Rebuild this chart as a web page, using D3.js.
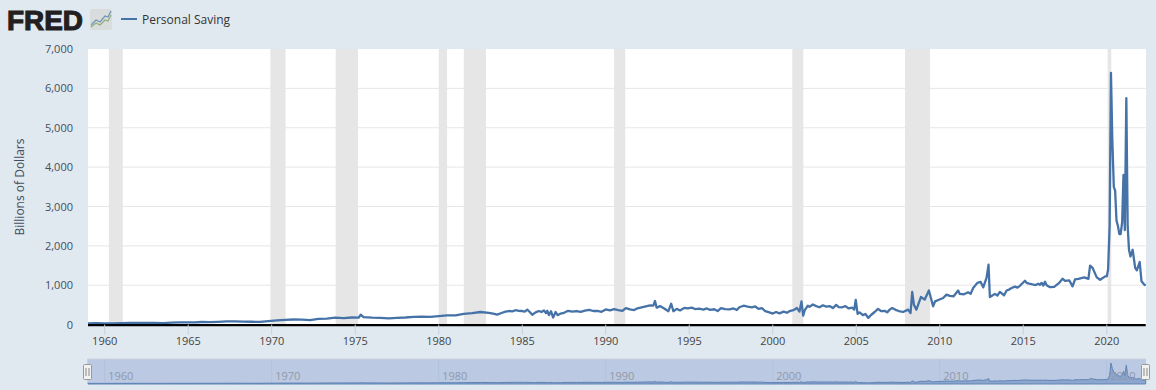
<!DOCTYPE html>
<html>
<head>
<meta charset="utf-8">
<script src="https://cdn.jsdelivr.net/npm/d3@7"></script>
<style>
  html, body { margin: 0; padding: 0; background: #e1e9f0; }
  text { font-family: "Open Sans", sans-serif; }
</style>
</head>
<body>
<div id="chart"></div>
<script>
const seriesName = 'Personal Saving';
const yAxisTitle = 'Billions of Dollars';
const yTicks = [0, 1000, 2000, 3000, 4000, 5000, 6000, 7000];
const xTicks = [1960, 1965, 1970, 1975, 1980, 1985, 1990, 1995, 2000, 2005, 2010, 2015, 2020];
const navTicks = [1960, 1970, 1980, 1990, 2000, 2010, 2020];

// recession start / end, decimal years
const recessionStart = [1960.25, 1969.92, 1973.83, 1980.0, 1981.5, 1990.5, 2001.17, 2007.92, 2020.05];
const recessionEnd = [1961.08, 1970.83, 1975.17, 1980.5, 1982.83, 1991.17, 2001.83, 2009.42, 2020.27];

// decimal years and billions of dollars
const dates = [
  1959.0, 1959.5, 1960.0, 1960.5, 1961.0, 1961.5, 1962.0, 1962.5, 1963.0, 1963.5,
  1964.0, 1964.5, 1965.0, 1965.4, 1965.8, 1966.3, 1966.8, 1967.3, 1967.8, 1968.3,
  1968.8, 1969.3, 1969.8, 1970.3, 1970.8, 1971.3, 1971.8, 1972.3, 1972.8, 1973.3,
  1973.8, 1974.3, 1974.8, 1975.2, 1975.33, 1975.5, 1976.0, 1976.5, 1977.0, 1977.5,
  1978.0, 1978.5, 1979.0, 1979.5, 1980.0, 1980.5, 1981.0, 1981.5, 1982.0, 1982.5,
  1983.0, 1983.25, 1983.5, 1983.8, 1984.0, 1984.2, 1984.4, 1984.6, 1984.8, 1985.0,
  1985.15, 1985.3, 1985.45, 1985.6, 1985.8, 1986.0, 1986.15, 1986.3, 1986.42, 1986.5,
  1986.6, 1986.72, 1986.85, 1987.0, 1987.12, 1987.3, 1987.5, 1987.75, 1988.0, 1988.25,
  1988.5, 1988.75, 1989.0, 1989.25, 1989.5, 1989.75, 1990.0, 1990.25, 1990.5, 1990.75,
  1991.0, 1991.2, 1991.45, 1991.7, 1991.9, 1992.15, 1992.4, 1992.65, 1992.85, 1992.95,
  1993.05, 1993.25, 1993.5, 1993.75, 1993.92, 1994.05, 1994.25, 1994.45, 1994.7, 1994.9,
  1995.15, 1995.35, 1995.6, 1995.85, 1996.05, 1996.25, 1996.5, 1996.7, 1996.9, 1997.15,
  1997.4, 1997.65, 1997.85, 1998.0, 1998.25, 1998.5, 1998.75, 1998.95, 1999.15, 1999.35,
  1999.55, 1999.8, 2000.0, 2000.2, 2000.4, 2000.65, 2000.85, 2001.05, 2001.25, 2001.45,
  2001.6, 2001.72, 2001.82, 2001.92, 2002.1, 2002.2, 2002.4, 2002.6, 2002.8, 2003.0,
  2003.2, 2003.4, 2003.6, 2003.8, 2003.95, 2004.15, 2004.35, 2004.55, 2004.75, 2004.88,
  2004.97, 2005.08, 2005.2, 2005.4, 2005.55, 2005.72, 2005.9, 2006.1, 2006.3, 2006.5,
  2006.7, 2006.85, 2007.0, 2007.15, 2007.35, 2007.55, 2007.8, 2008.1, 2008.25, 2008.35,
  2008.45, 2008.6, 2008.87, 2009.1, 2009.35, 2009.6, 2009.72, 2009.95, 2010.2, 2010.4,
  2010.6, 2010.83, 2011.1, 2011.2, 2011.45, 2011.7, 2011.85, 2012.0, 2012.25, 2012.45,
  2012.6, 2012.8, 2012.92, 2013.0, 2013.15, 2013.3, 2013.45, 2013.6, 2013.85, 2014.0,
  2014.15, 2014.3, 2014.5, 2014.65, 2014.8, 2015.1, 2015.2, 2015.35, 2015.55, 2015.75,
  2015.9, 2016.0, 2016.1, 2016.2, 2016.3, 2016.4, 2016.6, 2016.85, 2017.0, 2017.15,
  2017.35, 2017.5, 2017.75, 2017.95, 2018.1, 2018.3, 2018.65, 2018.9, 2019.0, 2019.15,
  2019.4, 2019.6, 2019.9, 2020.0, 2020.08, 2020.17, 2020.25, 2020.33, 2020.42, 2020.5,
  2020.58, 2020.67, 2020.75, 2020.83, 2020.92, 2021.0, 2021.08, 2021.17, 2021.25, 2021.33,
  2021.42, 2021.55, 2021.7, 2021.8, 2021.97, 2022.08, 2022.25, 2022.33
];
const saving = [
  32, 36, 30, 33, 40, 44, 42, 46, 42, 40,
  50, 58, 55, 54, 66, 62, 70, 80, 84, 78,
  72, 70, 88, 105, 118, 130, 125, 112, 145, 150,
  175, 165, 180, 175, 250, 190, 175, 170, 160, 170,
  180, 195, 200, 195, 215, 235, 235, 270, 290, 320,
  300, 280, 255, 300, 330, 345, 335, 365, 350, 345,
  330, 380, 320, 250, 310, 345, 320, 360, 290, 350,
  240, 340, 180, 320, 240, 280, 300, 350, 330, 345,
  325, 355, 375, 345, 350, 325, 385, 360, 395, 370,
  350, 420, 385, 370, 415, 440, 465, 490, 480, 600,
  430, 470, 410, 340, 530, 340, 400, 360, 425, 410,
  430, 395, 405, 380, 410, 375, 390, 345, 420, 395,
  385, 410, 370, 440, 480, 455, 440, 460, 400, 420,
  340, 310, 280, 320, 285, 330, 300, 350, 370, 420,
  330, 590, 230, 370, 480, 450, 510, 470, 440, 490,
  455, 470, 420, 500, 445, 440, 470, 410, 430, 380,
  630, 270, 310, 240, 270, 170, 250, 320, 400, 340,
  350, 310, 380, 420, 375, 345, 320, 380, 295, 830,
  505, 380, 700, 635, 865, 465, 590, 630, 675, 760,
  730, 720, 865, 780, 770, 820, 780, 930, 1060, 1085,
  945, 1185, 1520, 700, 740, 780, 740, 830, 745, 865,
  890, 930, 965, 940, 985, 1115, 1060, 1040, 1020, 1005,
  1040, 1010, 1060, 990, 1090, 1000, 950, 960, 1010, 1060,
  1165, 1110, 1125, 970, 1150, 1160, 1200, 1160, 1500, 1440,
  1200, 1140, 1225, 1225, 1400, 2500, 6390, 4700, 3500, 3400,
  2650, 2500, 2300, 2300, 2600, 3800, 2400, 5750, 2500, 1900,
  1730, 1900, 1440, 1380, 1590, 1100, 1015, 990
];

const width = 1156, height = 390;
const points = dates.map((d, i) => ({ date: d, value: saving[i] }));

const svg = d3.select('#chart')
  .append('svg')
  .style('display', 'block')
  .attr('width', width)
  .attr('height', height);

const x = d3.scaleLinear().domain([1959, 2022.33]).range([88, 1145.7]);
const y = d3.scaleLinear().domain([0, 7000]).range([324.6, 49]);

// plot background
svg.append('rect')
  .attr('x', x.range()[0]).attr('y', y(7000))
  .attr('width', x.range()[1] - x.range()[0] + 0.3)
  .attr('height', y(0) - y(7000))
  .attr('fill', '#fff');

// recession bands
svg.append('g').selectAll('rect')
  .data(recessionStart)
  .join('rect')
  .attr('x', d => x(d))
  .attr('y', y(7000))
  .attr('width', (d, i) => x(recessionEnd[i]) - x(d))
  .attr('height', y(0) - y(7000))
  .attr('fill', '#e6e6e6');

// gridlines and y labels
const yAxis = svg.append('g')
  .attr('transform', `translate(${x.range()[0]},0)`)
  .call(d3.axisLeft(y).tickValues(yTicks).tickFormat(d3.format(',')).tickSize(0).tickPadding(15));
yAxis.select('.domain').remove();
yAxis.selectAll('text')
  .attr('font-size', 11)
  .attr('fill', '#444e5e')
  .style('font-family', '"Open Sans", sans-serif');
svg.append('g').selectAll('line')
  .data(yTicks.filter(d => d > 0 && d < 7000))
  .join('line')
  .attr('x1', x.range()[0]).attr('x2', x.range()[1])
  .attr('y1', d => y(d)).attr('y2', d => y(d))
  .attr('stroke', '#e6e6e6');

const lineGen = d3.line().x(d => x(d.date)).y(d => y(d.value));
svg.append('path')
  .datum(points)
  .attr('d', lineGen)
  .attr('fill', 'none')
  .attr('stroke', '#4572a7')
  .attr('stroke-width', 2.3)
  .attr('stroke-linejoin', 'round');

// x axis, heavy black baseline
const xAxis = svg.append('g')
  .attr('transform', `translate(-0.5,${y(0)})`)
  .call(d3.axisBottom(x).tickValues(xTicks).tickFormat(d3.format('d')).tickSize(10).tickPadding(3).tickSizeOuter(0));
xAxis.select('.domain')
  .attr('stroke', '#000')
  .attr('stroke-width', 2.4);
xAxis.selectAll('line').attr('stroke', '#c0d0e0');
xAxis.selectAll('text')
  .attr('font-size', 11)
  .attr('fill', '#444')
  .style('font-family', '"Open Sans", sans-serif');

svg.append('text')
  .attr('transform', `translate(24,187) rotate(-90)`)
  .attr('text-anchor', 'middle')
  .attr('font-size', 12)
  .attr('fill', '#444e5e')
  .text(yAxisTitle);

// navigator
const navY = d3.scaleLinear().domain([0, 7000]).range([383.5, 361]);
const navX0 = 87.3, navX1 = 1146;
svg.append('rect')
  .attr('x', navX0).attr('y', 359)
  .attr('width', navX1 - navX0).attr('height', 25)
  .attr('fill', '#bbc9e2');
svg.append('g').selectAll('line')
  .data(navTicks)
  .join('line')
  .attr('x1', d => x(d)).attr('x2', d => x(d))
  .attr('y1', 359).attr('y2', 384)
  .attr('stroke', '#b3c2dc');
svg.append('path')
  .datum(points)
  .attr('d', d3.area().x(d => x(d.date)).y0(384).y1(d => navY(d.value)))
  .attr('fill', '#7e9ac6')
  .attr('fill-opacity', 0.75)
  .attr('stroke', '#5f83b6')
  .attr('stroke-width', 1);
svg.append('g').selectAll('text')
  .data(navTicks)
  .join('text')
  .attr('x', d => x(d) + 3.5)
  .attr('y', 379.5)
  .attr('font-size', 11)
  .attr('fill', '#8f99ab')
  .text(d => d);
svg.append('line')
  .attr('x1', navX0).attr('x2', navX1)
  .attr('y1', 359).attr('y2', 359)
  .attr('stroke', '#c8d0dc');

// navigator handles
[87.5, 1145.5].forEach(cx => {
  const h = svg.append('g').attr('transform', `translate(${cx},0)`);
  h.append('rect')
    .attr('x', -4).attr('y', 364.5).attr('width', 8).attr('height', 15).attr('rx', 1)
    .attr('fill', '#f2f2f2').attr('stroke', '#999');
  [-1.5, 1.5].forEach(dx => h.append('line')
    .attr('x1', dx).attr('x2', dx).attr('y1', 368).attr('y2', 376)
    .attr('stroke', '#888'));
});

// header: logo
svg.append('text')
  .attr('x', 7).attr('y', 29.5)
  .attr('textLength', 76).attr('lengthAdjust', 'spacingAndGlyphs')
  .style('font-family', '"Liberation Sans", sans-serif')
  .attr('font-size', 27).attr('font-weight', 700)
  .attr('fill', '#231f20').attr('stroke', '#231f20').attr('stroke-width', 1.1)
  .text('FRED');
svg.append('rect')
  .attr('x', 90).attr('y', 9).attr('width', 22).attr('height', 21).attr('rx', 2)
  .attr('fill', '#d9dcdc');
const iconLine = d3.line();
svg.append('path')
  .attr('d', iconLine([[91, 25], [96, 20], [100, 22], [105, 16], [108, 17], [111, 11]]))
  .attr('fill', 'none').attr('stroke', '#6f93b5').attr('stroke-width', 1.2);
svg.append('path')
  .attr('d', iconLine([[91, 27], [96, 23], [100, 25], [105, 20], [108, 21], [111, 15]]))
  .attr('fill', 'none').attr('stroke', '#8fae7a').attr('stroke-width', 1.2);

// legend
svg.append('line')
  .attr('x1', 121).attr('x2', 137).attr('y1', 19).attr('y2', 19)
  .attr('stroke', '#4572a7').attr('stroke-width', 2);
svg.append('text')
  .attr('x', 142).attr('y', 24)
  .attr('font-size', 12)
  .attr('fill', '#333')
  .text(seriesName);
</script>
</body>
</html>
